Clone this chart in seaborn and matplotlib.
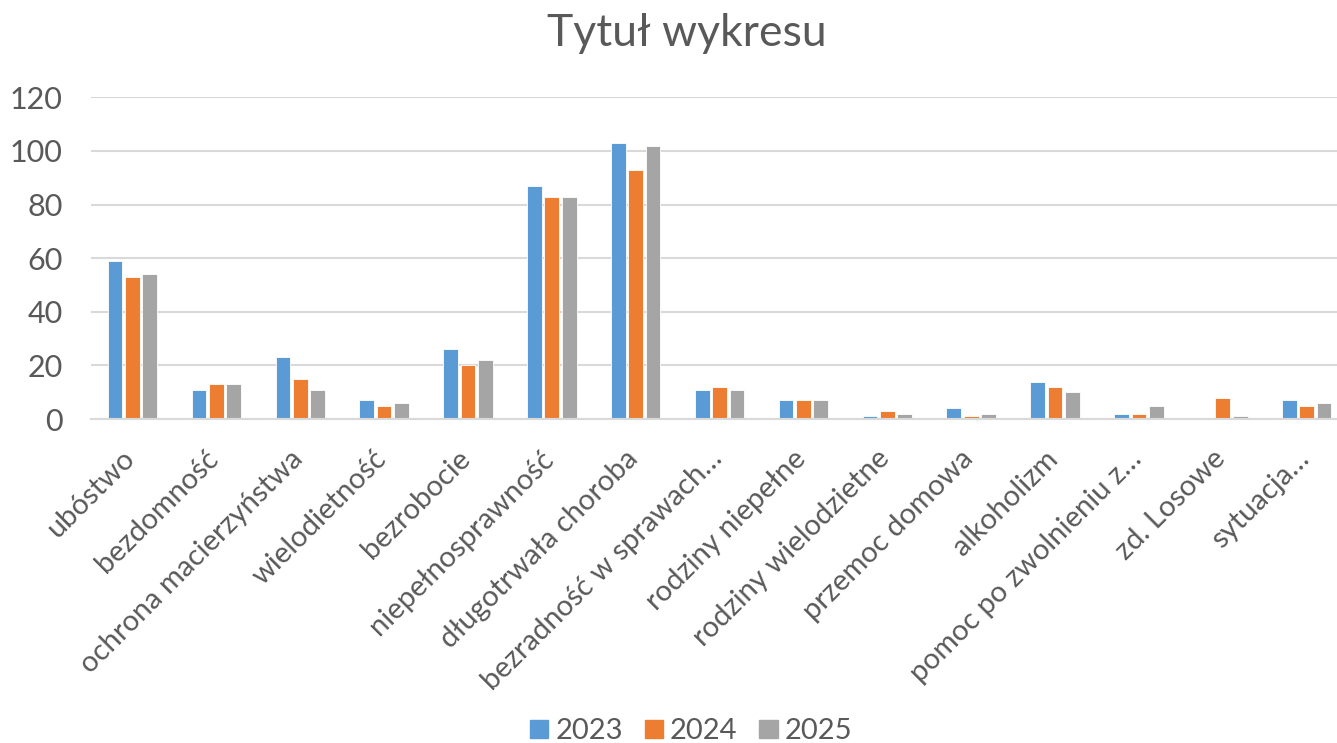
import matplotlib
matplotlib.use("Agg")
import matplotlib.pyplot as plt
import matplotlib.transforms as mtransforms
import seaborn as sns
import pandas as pd

categories = ["ubóstwo", "bezdomność", "ochrona macierzyństwa", "wielodietność",
              "bezrobocie", "niepełnosprawność", "długotrwała choroba",
              "bezradność w sprawach…", "rodziny niepełne", "rodziny wielodzietne",
              "przemoc domowa", "alkoholizm", "pomoc po zwolnieniu z…",
              "zd. Losowe", "sytuacja…"]
v2023 = [59, 11, 23, 7, 26, 87, 103, 11, 7, 1, 4, 14, 2, 0, 7]
v2024 = [53, 13, 15, 5, 20, 83, 93, 12, 7, 3, 1, 12, 2, 8, 5]
v2025 = [54, 13, 11, 6, 22, 83, 102, 11, 7, 2, 2, 10, 5, 1, 6]
years = ["2023", "2024", "2025"]
colors = ["#5B9BD5", "#ED7D31", "#A5A5A5"]

rows = []
for y, vals in zip(years, [v2023, v2024, v2025]):
    for c, v in zip(categories, vals):
        rows.append({"cat": c, "year": y, "val": v})
df = pd.DataFrame(rows)

sns.set_theme(style="white")
plt.rcParams['font.family'] = ['Lato', 'DejaVu Sans']

fig = plt.figure(figsize=(13.37, 7.43), dpi=100)
ax = fig.add_axes([0.0677, 0.436, 0.941, 0.433])

sns.barplot(data=df, x="cat", y="val", hue="year", palette=colors, saturation=1,
            width=0.62, gap=0.15, edgecolor="white", linewidth=0.6, ax=ax, legend=True)

ax.set_ylim(0, 120)
ax.set_yticks(range(0, 121, 20))
ax.set_xlim(-0.5, len(categories) - 0.5)
ax.yaxis.grid(True, color="#D9D9D9", linewidth=1.5)
ax.set_axisbelow(True)
for s in ["top", "right", "left"]:
    ax.spines[s].set_visible(False)
ax.spines["bottom"].set_color("#D9D9D9")
ax.spines["bottom"].set_linewidth(1.5)
ax.set_xlabel("")
ax.set_ylabel("")
ax.tick_params(axis="both", length=0, colors="#595959")
ax.tick_params(axis="y", labelsize=22, pad=20)
ax.tick_params(axis="x", labelsize=21, pad=19)
offset = mtransforms.ScaledTranslation(-11 / 100, 0, fig.dpi_scale_trans)
for lab in ax.get_xticklabels():
    lab.set_rotation(45)
    lab.set_ha("right")
    lab.set_va("top")
    lab.set_rotation_mode("anchor")
    lab.set_transform(lab.get_transform() + offset)

fig.text(0.514, 0.955, "Tytuł wykresu", ha="center", va="center",
         fontsize=32, color="#595959")

ax.get_legend().remove()
handles = [plt.Rectangle((0, 0), 1, 1, color=c) for c in colors]
fig.legend(handles, years, loc="lower center", ncol=3, frameon=False,
           fontsize=21, labelcolor="#595959", handlelength=0.62, handleheight=0.62,
           columnspacing=0.75, handletextpad=0.25, bbox_to_anchor=(0.517, -0.037))

fig.savefig("out.png", dpi=100)
